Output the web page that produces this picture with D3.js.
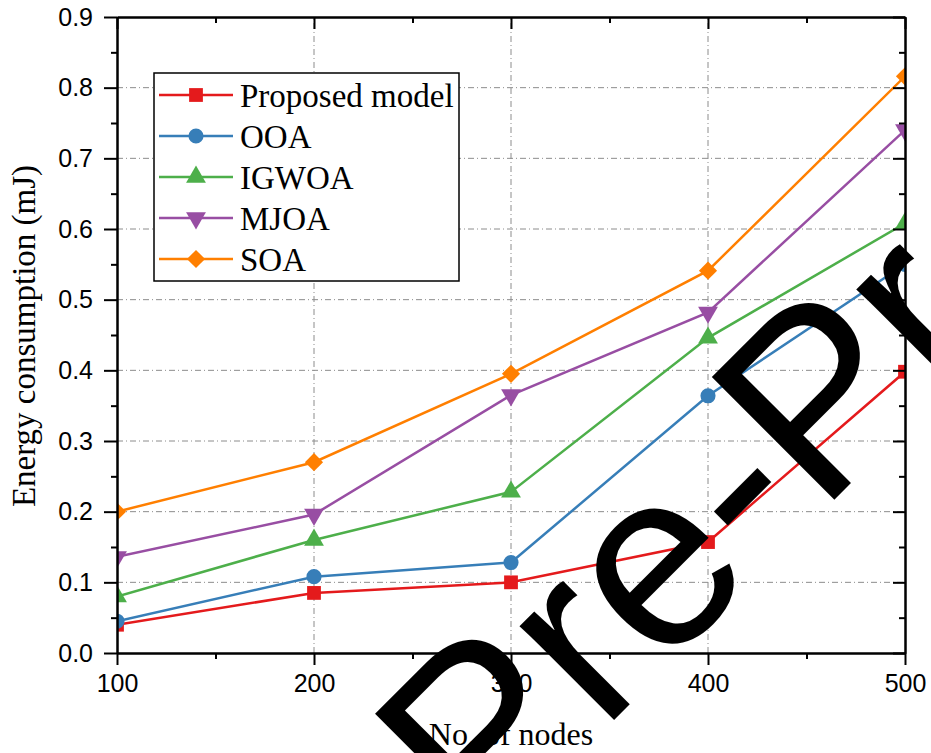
<!DOCTYPE html>
<html>
<head>
<meta charset="utf-8">
<script src="https://cdn.jsdelivr.net/npm/d3@7"></script>
<style>
	body { margin: 0; background: #fff; }
	svg { display: block; }
</style>
</head>
<body>
<div id="chart"><svg></svg></div>
<script>
var nodes = [100, 200, 300, 400, 500];
var seriesNames = ["Proposed model", "OOA", "IGWOA", "MJOA", "SOA"];
var proposed = [0.04, 0.085, 0.1, 0.157, 0.398];
var ooa = [0.045, 0.108, 0.128, 0.364, 0.55];
var igwoa = [0.08, 0.16, 0.228, 0.446, 0.608];
var mjoa = [0.136, 0.196, 0.365, 0.482, 0.74];
var soa = [0.2, 0.27, 0.395, 0.541, 0.816];
var yTicks = [0.0, 0.1, 0.2, 0.3, 0.4, 0.5, 0.6, 0.7, 0.8, 0.9];
var yMinor = [0.05, 0.15, 0.25, 0.35, 0.45, 0.55, 0.65, 0.75, 0.85];
var xMinor = [150, 250, 350, 450];

var colors = ["#e41a1c", "#377eb8", "#4daf4a", "#984ea3", "#ff7f00"];
var allValues = [proposed, ooa, igwoa, mjoa, soa];

var width = 931, height = 753;
// note: "top" is taken by window.top, so plot edges get a prefix
var p_left = 117, p_right = 905, p_top = 17, p_bottom = 653;

var svg = d3.select("#chart").select("svg")
	.attr("width", width)
	.attr("height", height);

svg.append("rect")
	.attr("width", width)
	.attr("height", height)
	.style("fill", "#fff");

var x = d3.scaleLinear().domain([100, 500]).range([p_left, p_right]);
var y = d3.scaleLinear().domain([0, 0.9]).range([p_bottom, p_top]);

// grid
svg.append("g")
	.selectAll("line")
	.data(yTicks.slice(1, -1))
	.enter()
	.append("line")
	.attr("x1", p_left).attr("x2", p_right)
	.attr("y1", function(d) { return y(d); })
	.attr("y2", function(d) { return y(d); })
	.style("stroke", "#8c8c8c")
	.style("stroke-width", 1)
	.style("stroke-dasharray", "6,3,1,3");
svg.append("g")
	.selectAll("line")
	.data(nodes.slice(1, -1))
	.enter()
	.append("line")
	.attr("y1", p_bottom).attr("y2", p_top)
	.attr("x1", function(d) { return x(d); })
	.attr("x2", function(d) { return x(d); })
	.style("stroke", "#8c8c8c")
	.style("stroke-width", 1)
	.style("stroke-dasharray", "6,3,1,3");

svg.append("clipPath")
	.attr("id", "plotclip")
	.append("rect")
	.attr("x", p_left)
	.attr("y", p_top)
	.attr("width", p_right - p_left)
	.attr("height", p_bottom - p_top);

var symbols = [
	d3.symbol().type(d3.symbolSquare).size(190),
	d3.symbol().type(d3.symbolCircle).size(180),
	d3.symbol().type(d3.symbolTriangle).size(170),
	d3.symbol().type(d3.symbolTriangle).size(170),
	d3.symbol().type(d3.symbolSquare).size(165)
];
var rotations = [0, 0, 0, 180, 45];

var line = d3.line()
	.x(function(d, i) { return x(nodes[i]); })
	.y(function(d) { return y(d); });

var plot = svg.append("g").attr("clip-path", "url(#plotclip)");

allValues.forEach(function(vals, s)
{
	plot.append("path")
		.datum(vals)
		.attr("d", line)
		.style("fill", "none")
		.style("stroke", colors[s])
		.style("stroke-width", 2.5);
	plot.selectAll(".m" + s)
		.data(vals)
		.enter()
		.append("path")
		.attr("class", "m" + s)
		.attr("d", symbols[s])
		.attr("transform", function(d, i) { return "translate(" + x(nodes[i]) + "," + y(d) + ") rotate(" + rotations[s] + ")"; })
		.style("fill", colors[s]);
});

// axes
function styleAxis(g)
{
	g.select(".domain").style("stroke", "#000").style("stroke-width", 2);
	g.selectAll(".tick line").style("stroke", "#000").style("stroke-width", 2);
	g.selectAll("text")
		.style("font-family", "'Liberation Sans', Arial, sans-serif")
		.style("font-size", "25px")
		.style("fill", "#000");
}

svg.append("g")
	.attr("transform", "translate(0," + p_bottom + ")")
	.call(d3.axisBottom(x).tickValues(nodes).tickSize(12).tickSizeOuter(0).tickPadding(9))
	.call(styleAxis);
svg.append("g")
	.attr("transform", "translate(0," + p_bottom + ")")
	.call(d3.axisBottom(x).tickValues(xMinor).tickSize(6).tickSizeOuter(0).tickFormat(""))
	.call(styleAxis);
svg.append("g")
	.attr("transform", "translate(" + p_left + ",0)")
	.call(d3.axisLeft(y).tickValues(yTicks).tickSize(13).tickSizeOuter(0).tickPadding(11).tickFormat(d3.format(".1f")))
	.call(styleAxis);
svg.append("g")
	.attr("transform", "translate(" + p_left + ",0)")
	.call(d3.axisLeft(y).tickValues(yMinor).tickSize(6).tickSizeOuter(0).tickFormat(""))
	.call(styleAxis);
svg.append("g")
	.attr("transform", "translate(0," + p_top + ")")
	.call(d3.axisTop(x).tickValues(nodes).tickSize(-12).tickSizeOuter(0).tickFormat(""))
	.call(styleAxis);
svg.append("g")
	.attr("transform", "translate(0," + p_top + ")")
	.call(d3.axisTop(x).tickValues(xMinor).tickSize(-6).tickSizeOuter(0).tickFormat(""))
	.call(styleAxis);
svg.append("g")
	.attr("transform", "translate(" + p_right + ",0)")
	.call(d3.axisRight(y).tickValues(yTicks).tickSize(-12).tickSizeOuter(0).tickFormat(""))
	.call(styleAxis);
svg.append("g")
	.attr("transform", "translate(" + p_right + ",0)")
	.call(d3.axisRight(y).tickValues(yMinor).tickSize(-6).tickSizeOuter(0).tickFormat(""))
	.call(styleAxis);

// titles
svg.append("text")
	.attr("x", (p_left + p_right) / 2)
	.attr("y", 745)
	.style("text-anchor", "middle")
	.style("font-family", "'Liberation Serif', 'Times New Roman', serif")
	.style("font-size", "32px")
	.text("No. of nodes");
svg.append("text")
	.attr("transform", "translate(35,336) rotate(-90)")
	.style("text-anchor", "middle")
	.style("font-family", "'Liberation Serif', 'Times New Roman', serif")
	.style("font-size", "33px")
	.text("Energy consumption (mJ)");

// legend
var legend = svg.append("g");
legend.append("rect")
	.attr("x", 154)
	.attr("y", 73)
	.attr("width", 305)
	.attr("height", 208)
	.style("fill", "#fff")
	.style("stroke", "#000")
	.style("stroke-width", 1.5);

seriesNames.forEach(function(name, s)
{
	var ly = 95 + s * 41;
	legend.append("line")
		.attr("x1", 159).attr("x2", 233)
		.attr("y1", ly).attr("y2", ly)
		.style("stroke", colors[s])
		.style("stroke-width", 2.5);
	legend.append("path")
		.attr("d", symbols[s])
		.attr("transform", "translate(196," + ly + ") rotate(" + rotations[s] + ")")
		.style("fill", colors[s]);
	legend.append("text")
		.attr("x", 240)
		.attr("y", ly)
		.attr("dy", "0.35em")
		.style("font-family", "'Liberation Serif', 'Times New Roman', serif")
		.style("font-size", "33px")
		.text(name);
});

// watermark
svg.append("text")
	.attr("transform", "translate(483,851) rotate(-45)")
	.style("font-family", "'Liberation Sans', Arial, sans-serif")
	.style("font-size", "252px")
	.style("fill", "#000")
	.text("Pre-Proof");
</script>
</body>
</html>
